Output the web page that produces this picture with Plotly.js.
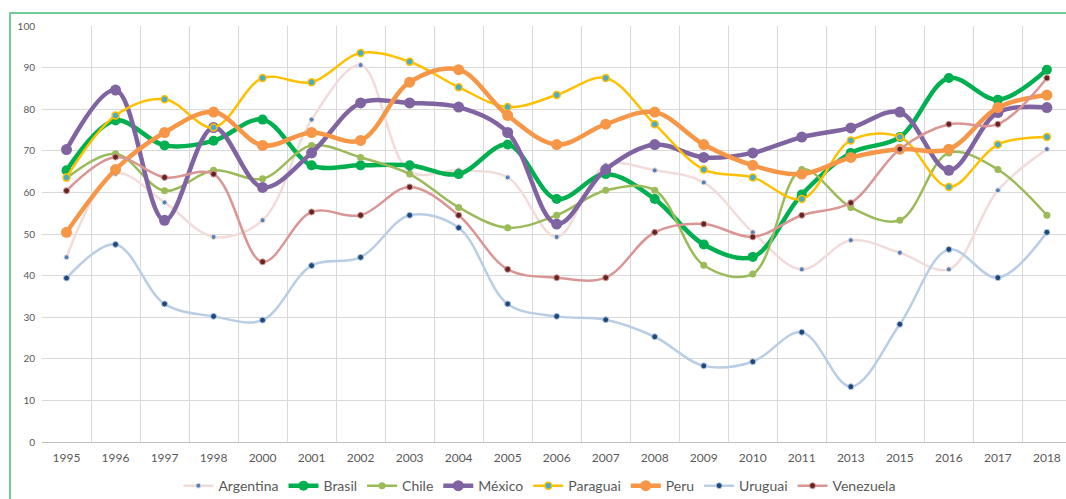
<!DOCTYPE html>
<html>
<head>
<meta charset="utf-8">
<script src="https://cdn.plot.ly/plotly-3.0.1.min.js"></script>
<style>
  html, body { margin: 0; padding: 0; background: #fff; overflow: hidden; }
  #chart { width: 1066px; height: 499px; }
  #frame { position: absolute; left: 9px; top: 12px; width: 2000px; height: 2000px;
           border-left: 2px solid #74CC98; border-top: 2px solid #74CC98; pointer-events: none; }
</style>
</head>
<body>
<div id="chart"></div>
<div id="frame"></div>
<script>
const years = ['1995','1996','1997','1998','2000','2001','2002','2003','2004','2005','2006','2007','2008','2009','2010','2011','2013','2015','2016','2017','2018'];

const argentina = [44.4, 64.5, 57.6, 49.3, 53.3, 77.5, 90.6, 65, 65.3, 63.6, 49.3, 66.5, 65.3, 62.4, 50.4, 41.5, 48.5, 45.5, 41.5, 60.5, 70.4];
const brasil    = [65.3, 77.3, 71.3, 72.4, 77.5, 66.5, 66.5, 66.5, 64.4, 71.5, 58.4, 64.4, 58.4, 47.5, 44.5, 59.5, 69.5, 73.3, 87.5, 82.3, 89.5];
const chile     = [63.4, 69.3, 60.4, 65.3, 63.3, 71.3, 68.4, 64.4, 56.4, 51.5, 54.5, 60.5, 60.5, 42.5, 40.4, 65.5, 56.4, 53.3, 69.5, 65.5, 54.5];
const mexico    = [70.3, 84.6, 53.3, 75.6, 61.2, 69.5, 81.5, 81.5, 80.5, 74.4, 52.4, 65.5, 71.5, 68.4, 69.5, 73.3, 75.5, 79.3, 65.3, 79.2, 80.4];
const paraguai  = [63.6, 78.5, 82.4, 75.6, 87.5, 86.5, 93.5, 91.4, 85.3, 80.5, 83.4, 87.5, 76.4, 65.5, 63.6, 58.4, 72.5, 73.3, 61.3, 71.5, 73.3];
const peru      = [50.4, 65.5, 74.4, 79.3, 71.3, 74.4, 72.5, 86.5, 89.5, 78.5, 71.5, 76.4, 79.3, 71.5, 66.5, 64.4, 68.4, 70.4, 70.4, 80.4, 83.4];
const uruguai   = [39.4, 47.5, 33.2, 30.2, 29.3, 42.4, 44.4, 54.5, 51.5, 33.2, 30.2, 29.4, 25.3, 18.3, 19.3, 26.4, 13.3, 28.3, 46.3, 39.5, 50.4];
const venezuela = [60.4, 68.5, 63.6, 64.4, 43.3, 55.3, 54.5, 61.3, 54.5, 41.5, 39.5, 39.5, 50.4, 52.4, 49.3, 54.5, 57.5, 70.4, 76.4, 76.4, 87.5];

const yTicks = [0, 10, 20, 30, 40, 50, 60, 70, 80, 90, 100];

function tr(name, y, lineColor, lineWidth, mColor, mSize, mLineColor, mLineWidth) {
  return {
    type: 'scatter', mode: 'lines+markers', name: name, x: years, y: y,
    line: { color: lineColor, width: lineWidth, shape: 'spline', smoothing: 1 },
    marker: { color: mColor, size: mSize, line: { color: mLineColor, width: mLineWidth } },
    hoverinfo: 'x+y+name'
  };
}

const data = [
  tr('Argentina', argentina, '#F2DCDB', 2.5, '#4F81BD', 5, '#F2DCDB', 1),
  tr('Brasil',    brasil,    '#00B050', 4.5, '#00B050', 10, '#00B050', 0),
  tr('Chile',     chile,     '#9BBB59', 2.5, '#9BBB59', 7, '#9BBB59', 0),
  tr('México',    mexico,    '#8064A2', 4.5, '#8064A2', 11, '#8064A2', 0),
  tr('Paraguai',  paraguai,  '#FFC000', 2.5, '#4BACC6', 7, '#FFC000', 1.5),
  tr('Peru',      peru,      '#F79646', 4.5, '#F79646', 11, '#F79646', 0),
  tr('Uruguai',   uruguai,   '#B9CDE5', 2.5, '#1F497D', 6, '#B9CDE5', 1),
  tr('Venezuela', venezuela, '#D99694', 2.5, '#632523', 6, '#D99694', 1)
];

const font = 'Lato, "Liberation Sans", Arial, sans-serif';

const layout = {
  width: 1066, height: 499,
  margin: { l: 41.5, r: 0, t: 26, b: 57 },
  paper_bgcolor: '#ffffff', plot_bgcolor: '#ffffff',
  font: { family: font, color: '#595959' },
  showlegend: true,
  legend: {
    orientation: 'h', xref: 'container', yref: 'container',
    x: 0.506, xanchor: 'center', y: 0.026, yanchor: 'middle',
    font: { family: font, size: 14, color: '#595959' },
    bgcolor: 'rgba(0,0,0,0)', tracegroupgap: 0
  },
  xaxis: {
    type: 'category', range: [-0.5, 20.39], tickson: 'boundaries',
    showgrid: true, gridcolor: '#D9D9D9', gridwidth: 1,
    showline: true, linecolor: '#BFBFBF', linewidth: 1,
    ticks: '', zeroline: false, fixedrange: true,
    tickfont: { family: font, size: 12, color: '#595959' },
    ticklabelstandoff: 5
  },
  yaxis: {
    range: [0, 100], tickvals: yTicks, ticktext: yTicks.map(String),
    showgrid: true, gridcolor: '#D9D9D9', gridwidth: 1,
    showline: false, zeroline: false, ticks: '', fixedrange: true,
    tickfont: { family: font, size: 10, color: '#595959' },
    ticklabelstandoff: 6
  }
};

Plotly.newPlot('chart', data, layout, { displayModeBar: false, staticPlot: true });
</script>
</body>
</html>
